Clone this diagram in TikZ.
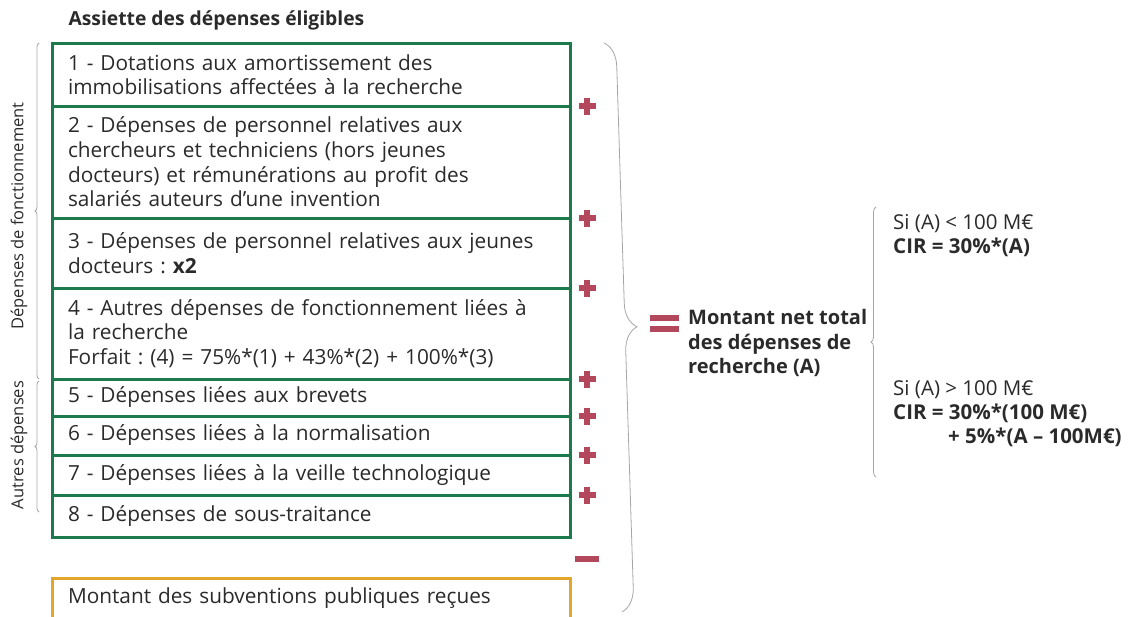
\documentclass[tikz,border=0pt]{standalone}
\usepackage{fontspec}
\setmainfont{Open Sans}
\usepackage{tikz}
\usetikzlibrary{positioning,decorations.pathreplacing}
\definecolor{Vert}{HTML}{1C7A4C}
\definecolor{Ocre}{HTML}{E2A62C}
\definecolor{Rouge}{HTML}{B3475B}
\definecolor{Gris}{HTML}{A6A6A6}
\definecolor{Encre}{HTML}{2A2A2A}
\frenchspacing
\tikzset{
  rowbox/.style={draw=Vert,line width=3pt,outer sep=0pt,minimum width=518pt,text width=486pt,inner xsep=16pt,inner ysep=0pt,align=left,text=Encre,font=\fontsize{20.8}{24.6}\selectfont},
  sidelabel/.style={rotate=90,text=Encre,font=\fontsize{16.5}{18}\selectfont},
  bracket/.style={Gris,line width=.8pt,decorate,decoration={brace,amplitude=#1}},
  pics/plussign/.style={code={\draw[Rouge,line width=6pt] (-8.5,0)--(8.5,0) (0,-8.5)--(0,8.5);}},
  pics/minussign/.style={code={\draw[Rouge,line width=6pt] (-12,0)--(12,0);}},
  pics/equalsign/.style={code={\draw[Rouge,line width=6pt] (-14.5,-5.5)--(14.5,-5.5) (-14.5,5.5)--(14.5,5.5);}}
}
\begin{document}
\begin{tikzpicture}[x=1pt,y=-1pt]
\useasboundingbox (0,0) rectangle (1131,616);
\node[anchor=west,text=Encre,font=\bfseries\fontsize{19.3}{20}\selectfont] (titre) at (65,20) {Assiette des dépenses éligibles};
\node[rowbox,anchor=north west,minimum height=63pt] (r1) at (52,43) {1 - Dotations aux amortissement des\\immobilisations affectées à la recherche};
\node[rowbox,below=0pt of r1,minimum height=112pt] (r2) {2 - Dépenses de personnel relatives aux\\chercheurs et techniciens (hors jeunes\\docteurs) et rémunérations au profit des\\salariés auteurs d’une invention};
\node[rowbox,below=0pt of r2,minimum height=70pt] (r3) {3 - Dépenses de personnel relatives aux jeunes\\docteurs : \textbf{x2}};
\node[rowbox,below=0pt of r3,minimum height=91pt] (r4) {4 - Autres dépenses de fonctionnement liées à\\la recherche\\Forfait : (4) = 75\%*(1) + 43\%*(2) + 100\%*(3)};
\node[rowbox,below=0pt of r4,minimum height=37pt] (r5) {5 - Dépenses liées aux brevets};
\node[rowbox,below=0pt of r5,minimum height=39pt] (r6) {6 - Dépenses liées à la normalisation};
\node[rowbox,below=0pt of r6,minimum height=40pt] (r7) {7 - Dépenses liées à la veille technologique};
\node[rowbox,below=0pt of r7,minimum height=42pt] (r8) {8 - Dépenses de sous-traitance};
\node[rowbox,draw=Ocre,anchor=north west,minimum height=40pt] (subv) at (52,578) {Montant des subventions publiques reçues};
\foreach \r in {r1,r2,r3,r4,r5,r6,r7}
  \path (\r.south east) ++(17,0) pic{plussign};
\path (r8.south east) ++(17,22) pic{minussign};
\draw[bracket=4pt] ([xshift=-13pt]r4.south west) -- ([xshift=-13pt]r1.north west);
\draw[bracket=4pt] ([xshift=-13pt,yshift=4pt]r8.west) -- ([xshift=-13pt,yshift=-2pt]r5.north west);
\node[sidelabel] (fonct) at (19,216) {Dépenses de fonctionnement};
\node[sidelabel] (autres) at (19,445) {Autres dépenses};
\draw[bracket=24pt] ([xshift=34pt]r1.north east) -- ([xshift=52pt,yshift=-34pt]subv.north east);
\path (664,323) pic{equalsign};
\node[anchor=west,align=left,text=Encre,inner sep=0pt,font=\bfseries\fontsize{20}{24.5}\selectfont] (total) at (688,343) {Montant net total\\des dépenses de\\recherche (A)};
\coordinate (hautb) at (876,207);
\coordinate (basb) at (876,477);
\draw[bracket=5pt] (basb) -- (hautb);
\node[anchor=north west,align=left,text=Encre,inner sep=0pt,font=\fontsize{20.5}{24}\selectfont] (cas1) at (893,214) {Si (A) < 100 M€\\\textbf{CIR = 30\%*(A)}};
\node[anchor=north west,align=left,text=Encre,inner sep=0pt,font=\fontsize{20.5}{24}\selectfont] (cas2) at (893,380) {Si (A) > 100 M€\\\textbf{CIR = 30\%*(100 M€)}\\\hspace*{55pt}\textbf{+ 5\%*(A – 100M€)}};
\end{tikzpicture}
\end{document}
